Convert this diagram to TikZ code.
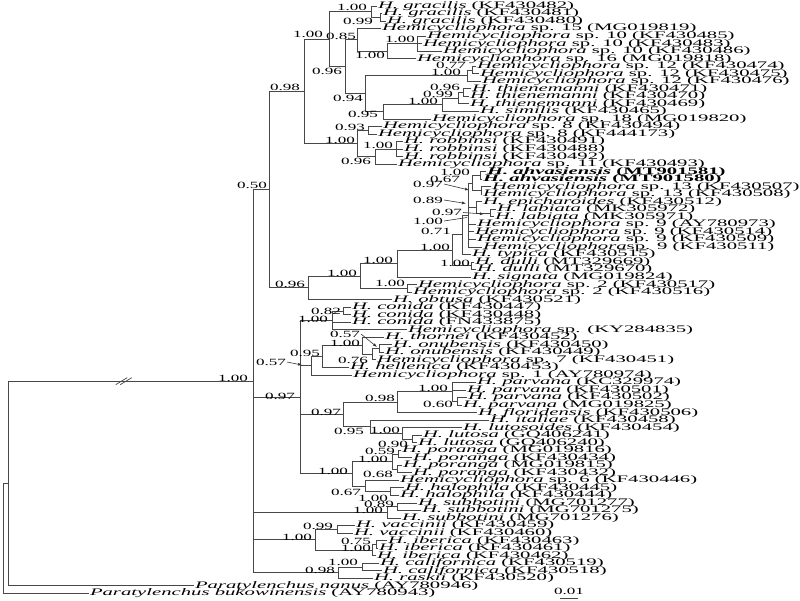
\documentclass[tikz,border=0pt]{standalone}
\usepackage{fontspec}
\setmainfont{Liberation Serif}
\usepackage{graphicx}
\usetikzlibrary{arrows.meta}
\newcommand\lfx[1]{\scalebox{2.07}[1]{#1}}
\newcommand\lbx[1]{\scalebox{1.8}[1]{#1}}
\newcommand\spn[1]{\textit{#1}}
\begin{document}
\begin{tikzpicture}[x=1pt,y=-1pt,
  br/.style={draw=black!72, line width=0.9pt, line cap=rect},
  leaf/.style={anchor=west, inner sep=1pt, outer sep=0pt, font=\fontsize{10}{10}\selectfont},
  lab/.style={anchor=east, inner sep=0pt, outer sep=0pt, font=\fontsize{9.5}{9.5}\selectfont},
  pt/.style={draw=black!80, line width=0.6pt, -{Latex[length=4pt,width=3pt]}},
]
\useasboundingbox (0,0) rectangle (800,600);
% ---------- internal nodes ----------
\coordinate (Gr2) at (380,17.30);
\coordinate (Gr1) at (371,11.65);
\coordinate (K1) at (417,43.65);
\coordinate (J) at (387,51.18);
\coordinate (I) at (357,39.89);
\coordinate (N12b) at (472,70.0);
\coordinate (N12) at (467,75.65);
\coordinate (T3) at (463,92.6);
\coordinate (T2) at (458,98.24);
\coordinate (T) at (442,104.83);
\coordinate (M) at (383,111.89);
\coordinate (L) at (365,93.77);
\coordinate (H) at (345,66.83);
\coordinate (G) at (329,39.24);
\coordinate (Sp8) at (368,130.25);
\coordinate (Rb) at (396,149.07);
\coordinate (R2) at (375,156.6);
\coordinate (R) at (357,143.43);
\coordinate (A) at (304,91.34);
\coordinate (Ah) at (480,175.43);
\coordinate (Sp13) at (481,190.49);
\coordinate (Ah2) at (472,182.96);
\coordinate (Lab) at (490,213.08);
\coordinate (X) at (476,207.43);
\coordinate (W) at (468,214.96);
\coordinate (V) at (462,234.73);
\coordinate (Dul) at (471,265.79);
\coordinate (E) at (452,250.26);
\coordinate (D) at (397,263.67);
\coordinate (Sp2) at (407,288.38);
\coordinate (C) at (360,276.03);
\coordinate (B) at (308,287.85);
\coordinate (P) at (269,189.6);
\coordinate (C1) at (343,310.97);
\coordinate (K) at (332,320.38);
\coordinate (N3) at (379,348.62);
\coordinate (N2) at (372,354.27);
\coordinate (N1) at (362,345.8);
\coordinate (N095) at (322,356.62);
\coordinate (N057) at (311,365.8);
\coordinate (Pv2) at (457,401.33);
\coordinate (Pv1) at (452,391.92);
\coordinate (Pv) at (397,402.27);
\coordinate (Lu2) at (412,438.98);
\coordinate (Lu1) at (402,433.33);
\coordinate (Lu) at (370,426.74);
\coordinate (PL) at (343,414.5);
\coordinate (Po1) at (398,454.04);
\coordinate (Po2) at (397,469.1);
\coordinate (Po) at (392,461.57);
\coordinate (Ha1) at (390,491.69);
\coordinate (Ha) at (365,486.04);
\coordinate (PH) at (352,473.8);
\coordinate (Q) at (300,397.09);
\coordinate (Sub1) at (397,506.75);
\coordinate (Sub) at (387,512.4);
\coordinate (Va) at (337,529.34);
\coordinate (Ib1) at (376,544.4);
\coordinate (Ib) at (372,550.04);
\coordinate (Vi) at (315,539.69);
\coordinate (Ca1) at (362,566.99);
\coordinate (Ca) at (338,572.64);
\coordinate (Mn) at (253,381.12);
\coordinate (O2) at (8,483.47);
\coordinate (root) at (3,538.4);
% ---------- leaves ----------
\node[leaf] (l1) at (377,6.0) {\lfx{\spn{H. gracilis} (KF430482)}};
\node[leaf] (l2) at (382,13.53) {\lfx{\spn{H. gracilis} (KF430481)}};
\node[leaf] (l3) at (386,21.06) {\lfx{\spn{H. gracilis} (KF430480)}};
\node[leaf] (l4) at (381,28.59) {\lfx{\spn{Hemicycliophora} sp. 15 (MG019819)}};
\node[leaf] (l5) at (426,36.12) {\lfx{\spn{Hemicycliophora} sp. 10 (KF430485)}};
\node[leaf] (l6) at (422,43.65) {\lfx{\spn{Hemicycliophora} sp. 10 (KF430483)}};
\node[leaf] (l7) at (442,51.18) {\lfx{\spn{Hemicycliophora} sp. 10 (KF430486)}};
\node[leaf] (l8) at (416,58.71) {\lfx{\spn{Hemicycliophora} sp. 16 (MG019818)}};
\node[leaf] (l9) at (476,66.24) {\lfx{\spn{Hemicycliophora} sp. 12 (KF430474)}};
\node[leaf] (l10) at (479,73.77) {\lfx{\spn{Hemicycliophora} sp. 12 (KF430475)}};
\node[leaf] (l11) at (481,81.30) {\lfx{\spn{Hemicycliophora} sp. 12 (KF430476)}};
\node[leaf] (l12) at (471,88.83) {\lfx{\spn{H. thienemanni} (KF430471)}};
\node[leaf] (l13) at (469,96.36) {\lfx{\spn{H. thienemanni} (KF430470)}};
\node[leaf] (l14) at (469,103.89) {\lfx{\spn{H. thienemanni} (KF430469)}};
\node[leaf] (l15) at (479,111.42) {\lfx{\spn{H. similis} (KF430465)}};
\node[leaf] (l16) at (431,118.95) {\lfx{\spn{Hemicycliophora} sp. 18 (MG019820)}};
\node[leaf] (l17) at (382,126.48) {\lfx{\spn{Hemicycliophora} sp. 8 (KF430494)}};
\node[leaf] (l18) at (377,134.01) {\lfx{\spn{Hemicycliophora} sp. 8 (KF444173)}};
\node[leaf] (l19) at (403,141.54) {\lfx{\spn{H. robbinsi} (KF430491)}};
\node[leaf] (l20) at (403,149.07) {\lfx{\spn{H. robbinsi} (KF430488)}};
\node[leaf] (l21) at (403,156.60) {\lfx{\spn{H. robbinsi} (KF430492)}};
\node[leaf] (l22) at (397,164.13) {\lfx{\spn{Hemicycliophora} sp. 11 (KF430493)}};
\node[leaf] (l23) at (486,171.66) {\lfx{\textbf{\spn{H. ahvasiensis} (MT901581)}}};
\node[leaf] (l24) at (482,179.19) {\lfx{\textbf{\spn{H. ahvasiensis} (MT901580)}}};
\node[leaf] (l25) at (491,186.72) {\lfx{\spn{Hemicycliophora} sp. 13 (KF430507)}};
\node[leaf] (l26) at (482,194.25) {\lfx{\spn{Hemicycliophora} sp. 13 (KF430508)}};
\node[leaf] (l27) at (482,201.78) {\lfx{\spn{H. epicharoides} (KF430512)}};
\node[leaf] (l28) at (496,209.31) {\lfx{\spn{H. labiata} (MK305972)}};
\node[leaf] (l29) at (494,216.84) {\lfx{\spn{H. labiata} (MK305971)}};
\node[leaf] (l30) at (476,224.37) {\lfx{\spn{Hemicycliophora} sp. 9 (AY780973)}};
\node[leaf] (l31) at (474,231.90) {\lfx{\spn{Hemicycliophora} sp. 9 (KF430514)}};
\node[leaf] (l32) at (476,239.43) {\lfx{\spn{Hemicycliophora} sp. 9 (KF430509)}};
\node[leaf] (l33) at (482,246.96) {\lfx{\spn{Hemicycliophora}sp. 9 (KF430511)}};
\node[leaf] (l34) at (471,254.49) {\lfx{\spn{H. typica} (KF430515)}};
\node[leaf] (l35) at (474,262.02) {\lfx{\spn{H. dulli} (MT329669)}};
\node[leaf] (l36) at (476,269.55) {\lfx{\spn{H. dulli} (MT329670)}};
\node[leaf] (l37) at (471,277.08) {\lfx{\spn{H. signata} (MG019824)}};
\node[leaf] (l38) at (417,284.61) {\lfx{\spn{Hemicycliophora} sp. 2 (KF430517)}};
\node[leaf] (l39) at (412,292.14) {\lfx{\spn{Hemicycliophora} sp. 2 (KF430516)}};
\node[leaf] (l40) at (392,299.67) {\lfx{\spn{H. obtusa} (KF430521)}};
\node[leaf] (l41) at (351,307.20) {\lfx{\spn{H. conida} (KF430447)}};
\node[leaf] (l42) at (351,314.73) {\lfx{\spn{H. conida} (KF430448)}};
\node[leaf] (l43) at (351,322.26) {\lfx{\spn{H. conida} (FN433875)}};
\node[leaf] (l44) at (407,329.79) {\lfx{\spn{Hemicycliophora} sp. (KY284835)}};
\node[leaf] (l45) at (384,337.32) {\lfx{\spn{H. thornei} (KF430452)}};
\node[leaf] (l46) at (392,344.85) {\lfx{\spn{H. onubensis} (KF430450)}};
\node[leaf] (l47) at (384,352.38) {\lfx{\spn{H. onubensis} (KF430449)}};
\node[leaf] (l48) at (376,359.91) {\lfx{\spn{Hemicycliophora} sp. 7 (KF430451)}};
\node[leaf] (l49) at (349,367.44) {\lfx{\spn{H. hellenica} (KF430453)}};
\node[leaf] (l50) at (352,374.97) {\lfx{\spn{Hemicycliophora} sp. 1 (AY780974)}};
\node[leaf] (l51) at (476,382.50) {\lfx{\spn{H. parvana} (KC329974)}};
\node[leaf] (l52) at (466,390.03) {\lfx{\spn{H. parvana} (KF430501)}};
\node[leaf] (l53) at (467,397.56) {\lfx{\spn{H. parvana} (KF430502)}};
\node[leaf] (l54) at (462,405.09) {\lfx{\spn{H. parvana} (MG019825)}};
\node[leaf] (l55) at (477,412.62) {\lfx{\spn{H. floridensis} (KF430506)}};
\node[leaf] (l56) at (489,420.15) {\lfx{\spn{H. italiae} (KF430458)}};
\node[leaf] (l57) at (462,427.68) {\lfx{\spn{H. lutosoides} (KF430454)}};
\node[leaf] (l58) at (422,435.21) {\lfx{\spn{H. lutosa} (GQ406241)}};
\node[leaf] (l59) at (417,442.74) {\lfx{\spn{H. lutosa} (GQ406240)}};
\node[leaf] (l60) at (401,450.27) {\lfx{\spn{H. poranga} (MG019816)}};
\node[leaf] (l61) at (412,457.80) {\lfx{\spn{H. poranga} (KF430434)}};
\node[leaf] (l62) at (402,465.33) {\lfx{\spn{H. poranga} (MG019815)}};
\node[leaf] (l63) at (412,472.86) {\lfx{\spn{H. poranga} (KF430432)}};
\node[leaf] (l64) at (399,480.39) {\lfx{\spn{Hemicycliophora} sp. 6 (KF430446)}};
\node[leaf] (l65) at (404,487.92) {\lfx{\spn{H. halophila} (KF430445)}};
\node[leaf] (l66) at (399,495.45) {\lfx{\spn{H. halophila} (KF430444)}};
\node[leaf] (l67) at (417,502.98) {\lfx{\spn{H. subbotini} (MG701277)}};
\node[leaf] (l68) at (421,510.51) {\lfx{\spn{H. subbotini} (MG701275)}};
\node[leaf] (l69) at (401,518.04) {\lfx{\spn{H. subbotini} (MG701276)}};
\node[leaf] (l70) at (355,525.57) {\lfx{\spn{H. vaccinii} (KF430459)}};
\node[leaf] (l71) at (353,533.10) {\lfx{\spn{H. vaccinii} (KF430460)}};
\node[leaf] (l72) at (387,540.63) {\lfx{\spn{H. iberica} (KF430463)}};
\node[leaf] (l73) at (378,548.16) {\lfx{\spn{H. iberica} (KF430461)}};
\node[leaf] (l74) at (376,555.69) {\lfx{\spn{H. iberica} (KF430462)}};
\node[leaf] (l75) at (379,563.22) {\lfx{\spn{H. californica} (KF430519)}};
\node[leaf] (l76) at (382,570.75) {\lfx{\spn{H. californica} (KF430518)}};
\node[leaf] (l77) at (373,578.28) {\lfx{\spn{H. raskii} (KF430520)}};
\node[leaf] (l78) at (194,585.81) {\lfx{\spn{Paratylenchus nanus} (AY780946)}};
\node[leaf] (l79) at (89,593.34) {\lfx{\spn{Paratylenchus bukowinensis} (AY780943)}};
% ---------- branches ----------
\draw[br] (root) |- (O2) (root) |- (l79.west);
\draw[br] (O2) |- (Mn) (O2) |- (l78.west);
\draw[br] (Mn) |- (P) (Mn) |- (Q) (Mn) |- (Sub) (Mn) |- (Vi) (Mn) |- (Ca);
\draw[br] (P) |- (A) (P) |- (B);
\draw[br] (A) |- (G) (A) |- (R);
\draw[br] (G) |- (Gr1) (G) |- (H);
\draw[br] (Gr1) |- (l1.west) (Gr1) |- (Gr2);
\draw[br] (Gr2) |- (l2.west) (Gr2) |- (l3.west);
\draw[br] (H) |- (I) (H) |- (L);
\draw[br] (I) |- (l4.west) (I) |- (J);
\draw[br] (J) |- (K1) (J) |- (l8.west);
\draw[br] (K1) |- (l5.west) (K1) |- (l6.west) (K1) |- (l7.west);
\draw[br] (L) |- (N12) (L) |- (M);
\draw[br] (N12) |- (N12b) (N12) |- (l11.west);
\draw[br] (N12b) |- (l9.west) (N12b) |- (l10.west);
\draw[br] (M) |- (T) (M) |- (l16.west);
\draw[br] (T) |- (T2) (T) |- (l15.west);
\draw[br] (T2) |- (T3) (T2) |- (l14.west);
\draw[br] (T3) |- (l12.west) (T3) |- (l13.west);
\draw[br] (R) |- (Sp8) (R) |- (R2);
\draw[br] (Sp8) |- (l17.west) (Sp8) |- (l18.west);
\draw[br] (R2) |- (Rb) (R2) |- (l22.west);
\draw[br] (Rb) |- (l19.west) (Rb) |- (l20.west) (Rb) |- (l21.west);
\draw[br] (B) |- (C) (B) |- (l40.west);
\draw[br] (C) |- (D) (C) |- (Sp2);
\draw[br] (Sp2) |- (l38.west) (Sp2) |- (l39.west);
\draw[br] (D) |- (E) (D) |- (l37.west);
\draw[br] (E) |- (V) (E) |- (Dul);
\draw[br] (Dul) |- (l35.west) (Dul) |- (l36.west);
\draw[br] (V) |- (W) (V) |- (l34.west);
\draw[br] (W) |- (Ah2) (W) |- (X) (W) |- (l30.west) (W) |- (l31.west) (W) |- (l32.west) (W) |- (l33.west);
\draw[br] (Ah2) |- (Ah) (Ah2) |- (Sp13);
\draw[br] (Ah) |- (l23.west) (Ah) |- (l24.west);
\draw[br] (Sp13) |- (l25.west) (Sp13) |- (l26.west);
\draw[br] (X) |- (l27.west) (X) |- (Lab);
\draw[br] (Lab) |- (l28.west) (Lab) |- (l29.west);
\draw[br] (Q) |- (K) (Q) |- (N057) (Q) |- (PL) (Q) |- (PH);
\draw[br] (K) |- (C1) (K) |- (l43.west) (K) |- (l44.west);
\draw[br] (C1) |- (l41.west) (C1) |- (l42.west);
\draw[br] (N057) |- (N095) (N057) |- (l50.west);
\draw[br] (N095) |- (N1) (N095) |- (l49.west);
\draw[br] (N1) |- (l45.west) (N1) |- (N2);
\draw[br] (N2) |- (N3) (N2) |- (l48.west);
\draw[br] (N3) |- (l46.west) (N3) |- (l47.west);
\draw[br] (PL) |- (Pv) (PL) |- (Lu);
\draw[br] (Pv) |- (Pv1) (Pv) |- (l55.west);
\draw[br] (Pv1) |- (l51.west) (Pv1) |- (l52.west) (Pv1) |- (Pv2);
\draw[br] (Pv2) |- (l53.west) (Pv2) |- (l54.west);
\draw[br] (Lu) |- (l56.west) (Lu) |- (Lu1);
\draw[br] (Lu1) |- (l57.west) (Lu1) |- (Lu2);
\draw[br] (Lu2) |- (l58.west) (Lu2) |- (l59.west);
\draw[br] (PH) |- (Po) (PH) |- (Ha);
\draw[br] (Po) |- (Po1) (Po) |- (Po2);
\draw[br] (Po1) |- (l60.west) (Po1) |- (l61.west);
\draw[br] (Po2) |- (l62.west) (Po2) |- (l63.west);
\draw[br] (Ha) |- (l64.west) (Ha) |- (Ha1);
\draw[br] (Ha1) |- (l65.west) (Ha1) |- (l66.west);
\draw[br] (Sub) |- (Sub1) (Sub) |- (l69.west);
\draw[br] (Sub1) |- (l67.west) (Sub1) |- (l68.west);
\draw[br] (Vi) |- (Va) (Vi) |- (Ib);
\draw[br] (Va) |- (l70.west) (Va) |- (l71.west);
\draw[br] (Ib) |- (Ib1) (Ib) |- (l74.west);
\draw[br] (Ib1) |- (l72.west) (Ib1) |- (l73.west);
\draw[br] (Ca) |- (Ca1) (Ca) |- (l77.west);
\draw[br] (Ca1) |- (l75.west) (Ca1) |- (l76.west);
% break marks on the root branch
\coordinate (bk1a) at (116,384.5); \coordinate (bk1b) at (127,377.8);
\coordinate (bk2a) at (120.5,384.5); \coordinate (bk2b) at (131.5,377.8);
\draw[br, line width=0.7pt] (bk1a) -- (bk1b) (bk2a) -- (bk2b);
% ---------- support values ----------
\node[lab] (sGr1) at (367,7) {\lbx{1.00}};
\node[lab] (sGr2) at (373,21.5) {\lbx{0.99}};
\node[lab] (sG) at (323,34) {\lbx{1.00}};
\node[lab] (sI) at (356,36) {\lbx{0.85}};
\node[lab] (sH) at (342,71) {\lbx{0.96}};
\node[lab] (sJ) at (385,55.5) {\lbx{1.00}};
\node[lab] (sK1) at (415,39) {\lbx{1.00}};
\node[lab] (sN12) at (461,72) {\lbx{1.00}};
\node[lab] (sN12b) at (466,65.5) {\lbx{0.77}};
\node[lab] (sL) at (363,98) {\lbx{0.94}};
\node[lab] (sM) at (378,114.5) {\lbx{0.95}};
\node[lab] (sT) at (438,101.5) {\lbx{1.00}};
\node[lab] (sT2) at (453,94) {\lbx{0.99}};
\node[lab] (sT3) at (460,87.5) {\lbx{0.96}};
\node[lab] (sA) at (300,87) {\lbx{0.98}};
\node[lab] (sR) at (355,140) {\lbx{1.00}};
\node[lab] (sSp8) at (365,127) {\lbx{0.93}};
\node[lab] (sRb) at (393,145.5) {\lbx{1.00}};
\node[lab] (sR2) at (371,161) {\lbx{0.96}};
\node[lab] (sAh) at (470,172.5) {\lbx{1.00}};
\node[lab] (sAh2) at (460,179.5) {\lbx{0.67}};
\node[lab] (sSp13) at (443,184) {\lbx{0.97}};
\node[lab] (sX) at (443,200) {\lbx{0.89}};
\node[lab] (sLab) at (462,212.5) {\lbx{0.97}};
\node[lab] (sW) at (443,221) {\lbx{1.00}};
\node[lab] (sV) at (451,231) {\lbx{0.71}};
\node[lab] (sE) at (450,247) {\lbx{1.00}};
\node[lab] (sDul) at (470,263) {\lbx{1.00}};
\node[lab] (sD) at (393,260) {\lbx{1.00}};
\node[lab] (sC) at (357,273) {\lbx{1.00}};
\node[lab] (sSp2) at (405,283.5) {\lbx{1.00}};
\node[lab] (sB) at (305,284) {\lbx{0.96}};
\node[lab] (sP) at (267,185) {\lbx{0.50}};
\node[lab] (sMn) at (248,378) {\lbx{1.00}};
\node[lab] (sC1) at (341,311.5) {\lbx{0.82}};
\node[lab] (sK) at (328,319) {\lbx{1.00}};
\node[lab] (sN3) at (360,334) {\lbx{0.57}};
\node[lab] (sN1) at (360,343) {\lbx{1.00}};
\node[lab] (sN2) at (368,360) {\lbx{0.76}};
\node[lab] (sN095) at (320,353) {\lbx{0.95}};
\node[lab] (sN057) at (286,362) {\lbx{0.57}};
\node[lab] (sQ) at (295,396) {\lbx{0.97}};
\node[lab] (sPv1) at (448,388) {\lbx{1.00}};
\node[lab] (sPv2) at (453,404) {\lbx{0.60}};
\node[lab] (sPv) at (395,398.5) {\lbx{0.98}};
\node[lab] (sPL) at (341,412) {\lbx{0.97}};
\node[lab] (sLu) at (364,431) {\lbx{0.95}};
\node[lab] (sLu1) at (400,430.5) {\lbx{1.00}};
\node[lab] (sLu2) at (408,444.5) {\lbx{0.90}};
\node[lab] (sPo) at (388,459) {\lbx{1.00}};
\node[lab] (sPo1) at (395,451.5) {\lbx{0.59}};
\node[lab] (sPo2) at (393,474.5) {\lbx{0.68}};
\node[lab] (sPH) at (348,471) {\lbx{1.00}};
\node[lab] (sHa) at (361,492.5) {\lbx{0.67}};
\node[lab] (sHa1) at (388,498) {\lbx{1.00}};
\node[lab] (sSub) at (383,510) {\lbx{1.00}};
\node[lab] (sSub1) at (394,504) {\lbx{0.89}};
\node[lab] (sVa) at (333,526) {\lbx{0.99}};
\node[lab] (sVi) at (312,537) {\lbx{1.00}};
\node[lab] (sIb1) at (371,541) {\lbx{0.75}};
\node[lab] (sIb) at (371,548.5) {\lbx{1.00}};
\node[lab] (sCa) at (335,570) {\lbx{0.98}};
\node[lab] (sCa1) at (358,562) {\lbx{1.00}};
% pointer lines for crowded values
\coordinate (tSp13) at (469,190);
\coordinate (tX) at (466,203.5);
\coordinate (tLab) at (484,214);
\coordinate (tW) at (467,217.5);
\coordinate (tN3) at (377,347);
\coordinate (tN057) at (302,365);
\draw[pt] ([xshift=1pt]sSp13.east) -- (tSp13);
\draw[pt] ([xshift=1pt]sX.east) -- (tX);
\draw[pt] ([xshift=1pt]sLab.east) -- (tLab);
\draw[draw=black!80, line width=0.6pt] ([xshift=1pt]sW.east) -- (tW);
\draw[pt] ([xshift=1pt]sN3.east) -- (tN3);
\draw[pt] ([xshift=1pt]sN057.east) -- (tN057);
% ---------- scale bar ----------
\node[lab, anchor=center] (scl) at (569,591) {\lbx{0.01}};
\coordinate (sbL) at (560,598.3); \coordinate (sbR) at (578,598.3);
\draw[br] (sbL) -- (sbR);
\end{tikzpicture}
\end{document}
